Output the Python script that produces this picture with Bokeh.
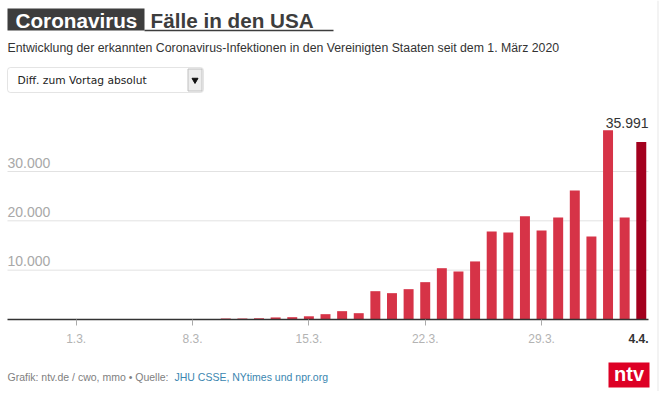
from bokeh.plotting import figure
from bokeh.models import ColumnDataSource, FixedTicker, BoxAnnotation, Range1d, LinearAxis
from bokeh.embed import file_html
from bokeh.resources import INLINE
from bokeh.core.properties import value

# ---------------- data ----------------
day_labels = [f"{d}.3." for d in range(1, 32)] + [f"{d}.4." for d in range(1, 5)]
new_cases = [3, 5, 20, 25, 45, 60, 70, 110, 100,
             200, 200, 250, 420, 470, 650, 1080, 1690, 1280,
             5740, 5340, 6150, 7570, 10400, 9730, 11770, 17850, 17650,
             20950, 18050, 20700, 26170, 16830, 38340, 20700, 35991]
tick_days = ["1.3.", "8.3.", "15.3.", "22.3.", "29.3."]
last_day = "4.4."
y_ticks = [10000, 20000, 30000]

title_box = "Coronavirus"
title_rest = "Fälle in den USA"
subtitle = "Entwicklung der erkannten Coronavirus-Infektionen in den Vereinigten Staaten seit dem 1. März 2020"
dropdown = "Diff. zum Vortag absolut"
source_prefix = "Grafik: ntv.de / cwo, mmo \u2022 Quelle: "
source_links = "JHU CSSE, NYtimes und npr.org"

# ---------------- layout (page pixels -> data) ----------------
FONT = "Liberation Sans"
FW, FH = 660, 391          # frame = whole drawing area
PX_DAY = 16.62             # pixels per day
DAY0_PX = 75.7             # pixel column of the first day
BASE_PX = 319              # pixel row of the zero line
YPP = 1000 / 4.933         # cases per pixel

XS = -DAY0_PX / PX_DAY
XE = XS + FW / PX_DAY
YS = -(FH - BASE_PX) * YPP
YE = BASE_PX * YPP


def X(px):
    return XS + px / PX_DAY


def Y(py):
    return (BASE_PX - py) * YPP


def fmt(v):
    return f"{v:,}".replace(",", ".")


p = figure(frame_width=FW, frame_height=FH, x_range=Range1d(XS, XE), y_range=Range1d(YS, YE),
           output_backend="svg", toolbar_location=None, x_axis_location=None,
           y_axis_location=None, title=None, min_border=0, min_border_left=0,
           min_border_right=0, min_border_top=0, min_border_bottom=0)
p.outline_line_color = None
p.background_fill_color = "white"
p.border_fill_color = "white"
for g in p.grid:
    g.visible = False

# faint frame line on the right
p.quad(left=[X(657)], right=[X(658)], top=[Y(0)], bottom=[Y(FH)], fill_color="#e8e8e8",
       line_color=None)

# ---------------- header ----------------
p.quad(left=[X(7)], right=[X(144)], top=[Y(8)], bottom=[Y(30)], fill_color="#3d3d3d",
       line_color=None)
p.quad(left=[X(144)], right=[X(333)], top=[Y(29.3)], bottom=[Y(30.8)], fill_color="#3d3d3d",
       line_color=None)
p.text(x=[X(15)], y=[Y(19.8)], text=[title_box], text_font=value(FONT),
       text_font_size="20.7px", text_font_style="bold", text_color="white",
       text_baseline="middle")
p.text(x=[X(150)], y=[Y(19.8)], text=[title_rest], text_font=value(FONT),
       text_font_size="20.7px", text_font_style="bold", text_color="#3d3d3d",
       text_baseline="middle")
p.text(x=[X(7)], y=[Y(47.7)], text=[subtitle], text_font=value(FONT), text_font_size="12.3px",
       text_color="#333333", text_baseline="middle")
p.add_layout(BoxAnnotation(left=X(7), right=X(203), top=Y(67), bottom=Y(92), border_radius=3,
                           fill_color=None, line_color="#a6a6a6", line_width=1))
p.quad(left=[X(187.5)], right=[X(201.5)], top=[Y(68.5)], bottom=[Y(90.5)],
       fill_color="#ededed", line_color="#c0c0c0", line_width=1)
p.scatter(x=[X(194.5)], y=[Y(79.5)], marker="inverted_triangle", size=6, color="#111111")
p.text(x=[X(17)], y=[Y(80)], text=[dropdown], text_font=value("DejaVu Sans"),
       text_font_size="10.7px", text_color="#222222", text_baseline="middle")

# ---------------- chart ----------------
p.segment(x0=[X(7)] * len(y_ticks), x1=[X(648)] * len(y_ticks), y0=y_ticks, y1=y_ticks,
          line_color="#e2e2e2", line_width=1)
p.text(x=[X(7)] * len(y_ticks), y=[v + 9 * YPP for v in y_ticks],
       text=[fmt(v) for v in y_ticks], text_font=value(FONT), text_font_size="14px",
       text_color="#a8a8a8", text_baseline="middle", text_align="left")

idx = list(range(len(day_labels)))
colors = ["#d63347"] * (len(new_cases) - 1) + ["#a3001e"]
src = ColumnDataSource(dict(x=idx, top=new_cases, color=colors))
p.vbar(x="x", top="top", bottom=0, width=0.6, fill_color="color", line_color=None, source=src)

p.text(x=[X(648)], y=[new_cases[-1] + 18.7 * YPP], text=[fmt(new_cases[-1])],
       text_align="right", text_baseline="middle", text_font=value(FONT),
       text_font_size="14px", text_color="#333333")

tick_pos = [day_labels.index(t) for t in tick_days]
xa = LinearAxis(fixed_location=0, ticker=FixedTicker(ticks=tick_pos), bounds=(X(7), X(648)),
                major_label_overrides={i: "" for i in tick_pos},
                major_label_text_font_size="0px", major_label_standoff=0,
                axis_line_color="#333333", axis_line_width=1.5,
                major_tick_out=6, major_tick_in=0, major_tick_line_color="#aaaaaa",
                minor_tick_out=0, minor_tick_in=0)
p.add_layout(xa, "below")

p.text(x=tick_pos, y=[Y(337.8)] * len(tick_pos), text=tick_days, text_font=value(FONT),
       text_font_size="12px", text_color="#b3b3b3", text_align="center",
       text_baseline="middle")
p.text(x=[X(648)], y=[Y(337.8)], text=[last_day], text_font=value(FONT),
       text_font_size="12px", text_font_style="bold", text_color="#333333",
       text_align="right", text_baseline="middle")

# ---------------- footer ----------------
p.text(x=[X(7)], y=[Y(376.3)], text=[source_prefix], text_font=value(FONT),
       text_font_size="10.5px", text_color="#808080", text_baseline="middle")
p.text(x=[X(174)], y=[Y(376.3)], text=[source_links], text_font=value(FONT),
       text_font_size="10.5px", text_color="#3b86b0", text_baseline="middle")
p.quad(left=[X(608)], right=[X(649)], top=[Y(362)], bottom=[Y(387)],
       fill_color="#dd0025", line_color=None)
p.text(x=[X(628.5)], y=[Y(373)], text=["ntv"], text_font=value(FONT),
       text_font_size="20px", text_font_style="bold", text_color="white",
       text_align="center", text_baseline="middle")

open("out.html", "w").write(file_html(p, INLINE))
